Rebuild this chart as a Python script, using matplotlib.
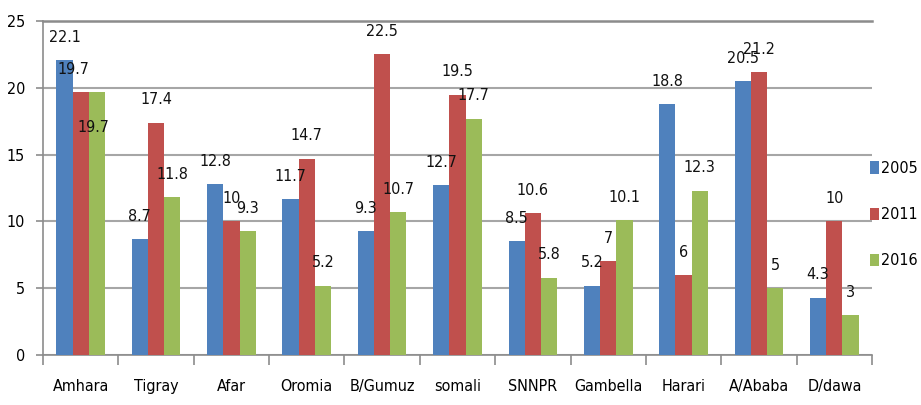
import matplotlib
matplotlib.use("Agg")
import matplotlib.pyplot as plt
import numpy as np

regions = ["Amhara", "Tigray", "Afar", "Oromia", "B/Gumuz", "somali",
           "SNNPR", "Gambella", "Harari", "A/Ababa", "D/dawa"]
years = ["2005", "2011", "2016"]
v2005 = [22.1, 8.7, 12.8, 11.7, 9.3, 12.7, 8.5, 5.2, 18.8, 20.5, 4.3]
v2011 = [19.7, 17.4, 10, 14.7, 22.5, 19.5, 10.6, 7, 6, 21.2, 10]
v2016 = [19.7, 11.8, 9.3, 5.2, 10.7, 17.7, 5.8, 10.1, 12.3, 5, 3]
yticks = [0, 5, 10, 15, 20, 25]

colors = ["#4F81BD", "#C0504D", "#9BBB59"]

plt.rcParams["font.family"] = ["DejaVu Sans"]
plt.rcParams["font.stretch"] = "condensed"
FS = 11.5

fig = plt.figure(figsize=(9.21, 4.05), dpi=100)
ax = fig.add_axes([0.0467, 0.1235, 0.9001, 0.8245])

series = [v2005, v2011, v2016]
x = np.arange(len(regions)) + 0.5
w = 0.215
# label offsets (dx in category units, dy in data units) for overlapping labels
special = {(0, 1): (-0.1, 1.7), (0, 2): (-0.05, -2.7)}
for s, (vals, c, yr) in enumerate(zip(series, colors, years)):
    pos = x + (s - 1) * w
    ax.bar(pos, vals, width=w, color=c, label=yr, zorder=3)
    for i, (p, v) in enumerate(zip(pos, vals)):
        dx, dy = special.get((i, s), (0, 1.7))
        ax.text(p + dx, v + dy, f"{v:g}", ha="center", va="center",
                fontsize=FS, fontstretch="condensed", color="#111111", zorder=4)

ax.set_xlim(0, len(regions))
ax.set_ylim(0, 25)
ax.set_yticks(yticks)
ax.set_yticklabels([str(t) for t in yticks], fontsize=FS, fontstretch="condensed")
ax.yaxis.grid(True, color="#a6a6a6", linewidth=1.5, zorder=0)
ax.set_axisbelow(True)

ax.set_xticks(np.arange(len(regions) + 1))
ax.set_xticklabels([])
ax.set_xticks(x, minor=True)
ax.set_xticklabels(regions, minor=True, fontsize=FS, fontstretch="condensed")
ax.tick_params(axis="x", which="major", length=7, width=1.2, color="#8c8c8c", direction="out")
ax.tick_params(axis="x", which="minor", length=0, pad=17)
ax.tick_params(axis="y", length=5, width=1.2, color="#8c8c8c", pad=8)

ax.spines["right"].set_visible(False)
ax.spines["top"].set_color("#8c8c8c")
ax.spines["top"].set_linewidth(1.8)
ax.spines["left"].set_color("#8c8c8c")
ax.spines["left"].set_linewidth(1.2)
ax.spines["bottom"].set_color("#8c8c8c")
ax.spines["bottom"].set_linewidth(1.2)

leg = ax.legend(loc="center left", bbox_to_anchor=(0.997, 0.42), frameon=False,
                prop={"size": FS, "stretch": "condensed"},
                handlelength=0.6, handleheight=0.8, handletextpad=0.1,
                labelspacing=1.95, borderaxespad=0, borderpad=0)

fig.savefig("out.png", dpi=100)
